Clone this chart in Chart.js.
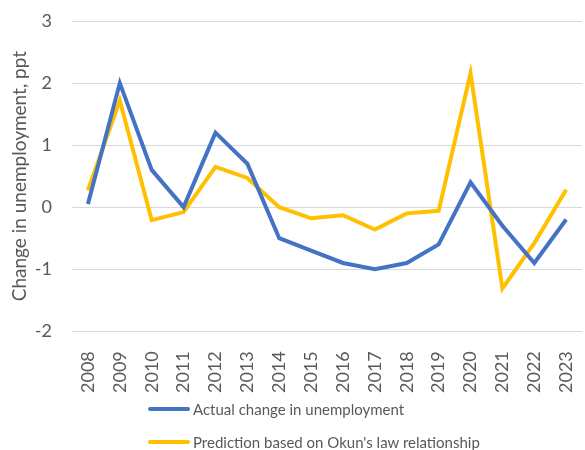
<!DOCTYPE html>
<html>
<head>
<meta charset="utf-8">
<script src="https://cdn.jsdelivr.net/npm/chart.js@4/dist/chart.umd.min.js"></script>
<style>
  html, body { margin: 0; padding: 0; background: #fff; overflow: hidden; }
  #wrap { position: relative; width: 600px; height: 450px; }
  #legend { position: absolute; left: 148px; top: 392px; font-family: Lato, "Liberation Sans", sans-serif; font-size: 15px; color: #595959; }
  #legend .item { display: flex; align-items: center; height: 33px; }
  #legend .swatch { width: 42px; height: 4px; border-radius: 2px; margin-right: 3px; }
</style>
</head>
<body>
<div id="wrap">
  <canvas id="okunChart" width="600" height="450"></canvas>
  <div id="legend"></div>
</div>
<script>
// Data
const years = ["2008", "2009", "2010", "2011", "2012", "2013", "2014", "2015",
               "2016", "2017", "2018", "2019", "2020", "2021", "2022", "2023"];
const actualChange = [0.05, 2.0, 0.6, 0.0, 1.2, 0.7, -0.5, -0.7,
                      -0.9, -1.0, -0.9, -0.6, 0.4, -0.3, -0.9, -0.2];
const okunPrediction = [0.27, 1.72, -0.21, -0.08, 0.65, 0.47, 0.0, -0.18,
                        -0.13, -0.36, -0.1, -0.06, 2.16, -1.31, -0.58, 0.28];
const seriesNames = ["Actual change in unemployment", "Prediction based on Okun's law relationship"];
const seriesColors = ["#4472C4", "#FFC000"];

const fontFamily = "Lato, 'Liberation Sans', sans-serif";
const textColor = "#595959";

function buildChart() {
    const ctx = document.getElementById("okunChart").getContext("2d");
    new Chart(ctx, {
        type: "line",
        data: {
            labels: years,
            datasets: [actualChange, okunPrediction].map((values, i) => ({
                label: seriesNames[i],
                data: values,
                borderColor: seriesColors[i],
                backgroundColor: seriesColors[i],
                borderWidth: 4,
                pointRadius: 0,
                tension: 0,
                fill: false,
            })),
        },
        options: {
            responsive: false,
            animation: false,
            layout: { padding: { top: 21, right: 7, bottom: 45, left: 8 } },
            plugins: {
                legend: { display: false },
                tooltip: { enabled: false },
            },
            scales: {
                x: {
                    offset: true,
                    grid: { display: false },
                    border: { display: false },
                    afterFit: (scale) => { scale.paddingTop = 0; },
                    ticks: {
                        minRotation: 90,
                        maxRotation: 90,
                        padding: 12,
                        color: textColor,
                        font: { family: fontFamily, size: 18 },
                    },
                },
                y: {
                    min: -2,
                    max: 3,
                    grid: { color: "#D9D9D9", lineWidth: 1, drawTicks: false },
                    border: { display: false },
                    afterFit: (scale) => {
                        scale.width = 64;
                        scale.paddingTop = 0;
                    },
                    ticks: {
                        stepSize: 1,
                        padding: 20,
                        color: textColor,
                        font: { family: fontFamily, size: 18 },
                    },
                    title: {
                        display: true,
                        text: "Change in unemployment, ppt",
                        color: textColor,
                        font: { family: fontFamily, size: 19 },
                        padding: { top: 0, bottom: 4 },
                    },
                },
            },
        },
    });

    // Legend listed below the chart
    const legend = document.getElementById("legend");
    seriesNames.forEach((name, i) => {
        const item = document.createElement("div");
        item.className = "item";
        const swatch = document.createElement("span");
        swatch.className = "swatch";
        swatch.style.background = seriesColors[i];
        const label = document.createElement("span");
        label.textContent = name;
        item.appendChild(swatch);
        item.appendChild(label);
        legend.appendChild(item);
    });
}

document.addEventListener("DOMContentLoaded", buildChart);
</script>
</body>
</html>
